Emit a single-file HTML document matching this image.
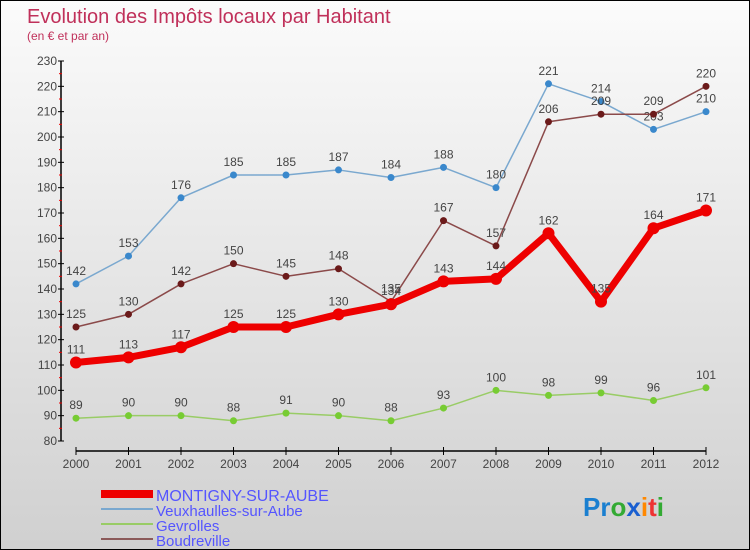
<!DOCTYPE html>
<html><head><meta charset="utf-8"><style>
body{margin:0}
#wrap{width:750px;height:550px;position:relative;overflow:hidden;background:linear-gradient(#fbfbfb,#d0d0d0);box-sizing:border-box;border:1px solid #000}
text{font-family:"Liberation Sans",sans-serif}
</style></head><body>
<div id="wrap">
<svg id="chart" width="750" height="550">
<text x="26" y="22" font-size="20" fill="#c0305a">Evolution des Impôts locaux par Habitant</text>
<text x="26" y="39" font-size="12" fill="#c0305a">(en € et par an)</text>
<g id="axes"></g><g id="series"></g>
<g>
<rect x="100" y="489" width="52" height="8" fill="#e00"/>
<text x="155" y="500" font-size="16" fill="#55f">MONTIGNY-SUR-AUBE</text>
<rect x="100" y="507" width="52" height="2" fill="#7aa8cf"/>
<text x="155" y="515" font-size="15" fill="#55f">Veuxhaulles-sur-Aube</text>
<rect x="100" y="522" width="52" height="2" fill="#99cc66"/>
<text x="155" y="530" font-size="15" fill="#55f">Gevrolles</text>
<rect x="100" y="537" width="52" height="2" fill="#8b5a5a"/>
<text x="155" y="545" font-size="15" fill="#55f">Boudreville</text>
</g>
<text x="582" y="515" font-size="26" font-weight="bold"><tspan fill="#1a7fd0">Pr</tspan><tspan fill="#3a3">o</tspan><tspan fill="#1a5fd0">x</tspan><tspan fill="#f80">i</tspan><tspan fill="#e33">t</tspan><tspan fill="#3a3">i</tspan></text>
</svg>
</div>
<script>
const years=[2000,2001,2002,2003,2004,2005,2006,2007,2008,2009,2010,2011,2012];
const yTicks=[80,90,100,110,120,130,140,150,160,170,180,190,200,210,220,230];
const montigny=[111,113,117,125,125,130,134,143,144,162,135,164,171];
const veux=[142,153,176,185,185,187,184,188,180,221,214,203,210];
const gevrolles=[89,90,90,88,91,90,88,93,100,98,99,96,101];
const boudreville=[125,130,142,150,145,148,135,167,157,206,209,209,220];
const NS="http://www.w3.org/2000/svg";
function X(i){return 75+i*52.5;}
function Y(v){return 440-(v-80)*380/150;}
function mk(t,a,p){const e=document.createElementNS(NS,t);for(const k in a)e.setAttribute(k,a[k]);p.appendChild(e);return e;}
const ax=document.getElementById('axes');
let l=mk('line',{x1:60,y1:60,x2:60,y2:440,stroke:'#000','stroke-width':1.5},ax);

l=mk('line',{x1:75,y1:450,x2:705,y2:450,stroke:'#000','stroke-width':1.5},ax);

yTicks.forEach((v,i)=>{
 mk('line',{x1:57,y1:Y(v),x2:63,y2:Y(v),stroke:'#000'},ax);
 if(i<yTicks.length-1)mk('line',{x1:58,y1:Y(v+5),x2:61,y2:Y(v+5),stroke:'#e00'},ax);
 const t=mk('text',{x:56,y:Y(v)+4,'text-anchor':'end','font-size':12,fill:'#444'},ax);t.textContent=v;
 
});
years.forEach((y,i)=>{
 mk('line',{x1:X(i),y1:446,x2:X(i),y2:454,stroke:'#000'},ax);
 const t=mk('text',{x:X(i),y:467,'text-anchor':'middle','font-size':12,fill:'#444'},ax);t.textContent=y;
 
});
const sg=document.getElementById('series');
function draw(data,name,color,w,r,dot){
 const g=mk('g',{},sg);
 
 const p=mk('polyline',{points:data.map((v,i)=>X(i)+','+Y(v)).join(' '),fill:'none',stroke:color,'stroke-width':w,'stroke-linejoin':'round'},g);
 
 data.forEach((v,i)=>{
  const c=mk('circle',{cx:X(i),cy:Y(v),r:r,fill:dot},g);
  
  const t=mk('text',{x:X(i),y:Y(v)-9,'text-anchor':'middle','font-size':12,fill:'#444'},g);t.textContent=v;
  
 });
}
draw(gevrolles,'gevrolles','#99cc66',1.5,3.5,'#77cc33');
draw(veux,'veuxhaulles','#7aa8cf',1.5,3.5,'#3a88cc');
draw(boudreville,'boudreville','#8b4a4a',1.5,3.5,'#6b1a1a');
draw(montigny,'montigny','#ee0000',7,6,'#ee0000');
</script>
</body></html>
